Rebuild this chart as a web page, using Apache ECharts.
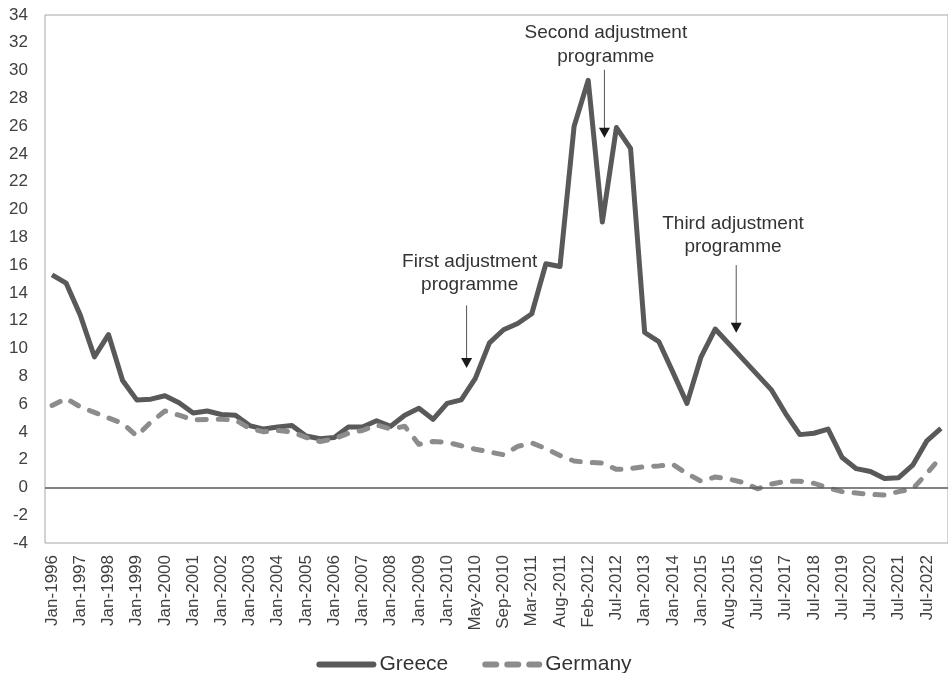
<!DOCTYPE html>
<html>
<head>
<meta charset="utf-8">
<script src="https://cdn.jsdelivr.net/npm/echarts@6/dist/echarts.min.js"></script>
<style>
  html, body { margin: 0; padding: 0; background: #ffffff; }
  #chart { width: 948px; height: 673px; }
</style>
</head>
<body>
<div id="chart"></div>
<script>
// Observation dates (semi-annual, denser around the adjustment programmes)
const categories = [
  'Jan-1996', 'Jul-1996', 'Jan-1997', 'Jul-1997', 'Jan-1998', 'Jul-1998', 'Jan-1999', 'Jul-1999',
  'Jan-2000', 'Jul-2000', 'Jan-2001', 'Jul-2001', 'Jan-2002', 'Jul-2002', 'Jan-2003', 'Jul-2003',
  'Jan-2004', 'Jul-2004', 'Jan-2005', 'Jul-2005', 'Jan-2006', 'Jul-2006', 'Jan-2007', 'Jul-2007',
  'Jan-2008', 'Jul-2008', 'Jan-2009', 'Jul-2009', 'Jan-2010', 'Mar-2010', 'May-2010', 'Jul-2010',
  'Sep-2010', 'Dec-2010', 'Mar-2011', 'Jun-2011', 'Aug-2011', 'Nov-2011', 'Feb-2012', 'Apr-2012',
  'Jul-2012', 'Oct-2012', 'Jan-2013', 'Jul-2013', 'Jan-2014', 'Jul-2014', 'Jan-2015', 'Apr-2015',
  'Aug-2015', 'Jan-2016', 'Jul-2016', 'Jan-2017', 'Jul-2017', 'Jan-2018', 'Jul-2018', 'Jan-2019',
  'Jul-2019', 'Jan-2020', 'Jul-2020', 'Jan-2021', 'Jul-2021', 'Jan-2022', 'Jul-2022', 'Jan-2023'
];

// 10-year government bond yields, %
const greece = [
  15.3, 14.7, 12.4, 9.4, 11.0, 7.7, 6.3, 6.35,
  6.6, 6.1, 5.35, 5.5, 5.25, 5.2, 4.45, 4.2,
  4.35, 4.45, 3.7, 3.5, 3.6, 4.35, 4.35, 4.8,
  4.4, 5.2, 5.7, 4.9, 6.05, 6.3, 7.85, 10.4,
  11.35, 11.8, 12.5, 16.1, 15.9, 26.0, 29.3, 19.1,
  25.9, 24.4, 11.15, 10.5, 8.3, 6.05, 9.4, 11.4,
  10.3, 9.2, 8.1, 7.0, 5.3, 3.8, 3.9, 4.2,
  2.15, 1.35, 1.15, 0.65, 0.7, 1.6, 3.35, 4.25
];

const germany = [
  5.9, 6.4, 5.8, 5.4, 5.0, 4.6, 3.7, 4.7,
  5.5, 5.2, 4.85, 4.9, 4.9, 4.85, 4.25, 4.0,
  4.1, 4.0, 3.6, 3.3, 3.5, 3.9, 4.1, 4.5,
  4.2, 4.4, 3.1, 3.3, 3.25, 3.0, 2.75, 2.55,
  2.35, 2.95, 3.2, 2.8, 2.3, 1.9, 1.8, 1.75,
  1.3, 1.35, 1.5, 1.55, 1.65, 1.0, 0.45, 0.75,
  0.6, 0.35, -0.1, 0.25, 0.45, 0.45, 0.3, -0.05,
  -0.3, -0.4, -0.5, -0.55, -0.3, -0.1, 1.0, 2.2
];

// Programme annotations, placed in axis units (category index, yield)
const programmes = [
  { lines: ['First adjustment', 'programme'], textAt: 29.6, textY: [16.24, 14.57], arrowAt: 29.38, arrowFrom: 13.1, arrowTo: 8.6 },
  { lines: ['Second adjustment', 'programme'], textAt: 39.25, textY: [32.7, 31.0], arrowAt: 39.15, arrowFrom: 30.06, arrowTo: 25.16 },
  { lines: ['Third adjustment', 'programme'], textAt: 48.26, textY: [19.0, 17.32], arrowAt: 48.49, arrowFrom: 16.0, arrowTo: 11.13 }
];

const FONT = "'Liberation Sans', Arial, sans-serif";

// Legend keys: a solid rounded bar and three rounded dashes
const SOLID_KEY = 'path://M3,0H57A3,3 0 0 1 57,6H3A3,3 0 0 1 3,0Z';
const DASH_KEY = 'path://M3,0H14A3,3 0 0 1 14,6H3A3,3 0 0 1 3,0Z' +
  'M25,0H36A3,3 0 0 1 36,6H25A3,3 0 0 1 25,0Z' +
  'M47,0H57A3,3 0 0 1 57,6H47A3,3 0 0 1 47,0Z';

const chart = echarts.init(document.getElementById('chart'), null, { renderer: 'canvas' });

chart.setOption({
  animation: false,
  backgroundColor: '#ffffff',
  textStyle: { fontFamily: FONT },
  grid: {
    left: 45, top: 15, width: 906, bottom: 130,
    show: true, borderColor: '#a6a6a6', borderWidth: 1, backgroundColor: 'transparent',
    containLabel: false
  },
  legend: {
    top: 649, left: 'center',
    itemWidth: 60, itemHeight: 6, itemGap: 34,
    textStyle: { fontFamily: FONT, fontSize: 21, color: '#333333', padding: [0, 0, 0, -2] },
    data: [
      { name: 'Greece', icon: SOLID_KEY, itemStyle: { color: '#595959' } },
      { name: 'Germany', icon: DASH_KEY, itemStyle: { color: '#8c8c8c' } }
    ]
  },
  xAxis: {
    type: 'category',
    data: categories,
    boundaryGap: true,
    axisLine: { show: false, onZero: false },
    axisTick: { show: false },
    splitLine: { show: false },
    axisLabel: {
      interval: 1, rotate: 90, margin: 12,
      fontFamily: FONT, fontSize: 17, color: '#404040'
    }
  },
  yAxis: {
    type: 'value',
    min: -4, max: 34, interval: 2,
    axisLine: { show: false },
    axisTick: { show: false },
    splitLine: { show: false },
    axisLabel: { margin: 17, fontFamily: FONT, fontSize: 17, color: '#404040' }
  },
  series: [
    {
      name: 'Greece', type: 'line', data: greece,
      symbol: 'none', smooth: false,
      color: '#595959',
      lineStyle: { color: '#595959', width: 5, join: 'round' },
      markLine: {
        silent: true, symbol: 'none', animation: false,
        label: { show: false },
        lineStyle: { color: '#595959', width: 1.5, type: 'solid' },
        data: [{ yAxis: 0 }]
      }
    },
    {
      name: 'Germany', type: 'line', data: germany,
      symbol: 'none', smooth: false,
      color: '#8c8c8c',
      lineStyle: { color: '#8c8c8c', width: 5, type: [9, 12], cap: 'round', join: 'round' }
    }
  ]
});

// Convert a (possibly fractional) category index and a yield into pixels
function toPixel(idx, value) {
  const i0 = Math.floor(idx);
  const a = chart.convertToPixel({ gridIndex: 0 }, [i0, value]);
  const b = chart.convertToPixel({ gridIndex: 0 }, [i0 + 1, value]);
  const f = idx - i0;
  return [a[0] + (b[0] - a[0]) * f, a[1]];
}

const graphics = [];
programmes.forEach(p => {
  p.lines.forEach((line, k) => {
    const pt = toPixel(p.textAt, p.textY[k]);
    graphics.push({
      type: 'text', silent: true,
      style: {
        text: line, x: pt[0], y: pt[1],
        align: 'center', verticalAlign: 'middle',
        font: '19px ' + FONT, fill: '#333333'
      }
    });
  });
  const top = toPixel(p.arrowAt, p.arrowFrom);
  const tip = toPixel(p.arrowAt, p.arrowTo);
  graphics.push({
    type: 'line', silent: true,
    shape: { x1: top[0], y1: top[1], x2: tip[0], y2: tip[1] - 9 },
    style: { stroke: '#555555', lineWidth: 1 }
  });
  graphics.push({
    type: 'polygon', silent: true,
    shape: { points: [[tip[0] - 5.5, tip[1] - 10], [tip[0] + 5.5, tip[1] - 10], [tip[0], tip[1]]] },
    style: { fill: '#1a1a1a' }
  });
});
chart.setOption({ graphic: graphics });
</script>
</body>
</html>
